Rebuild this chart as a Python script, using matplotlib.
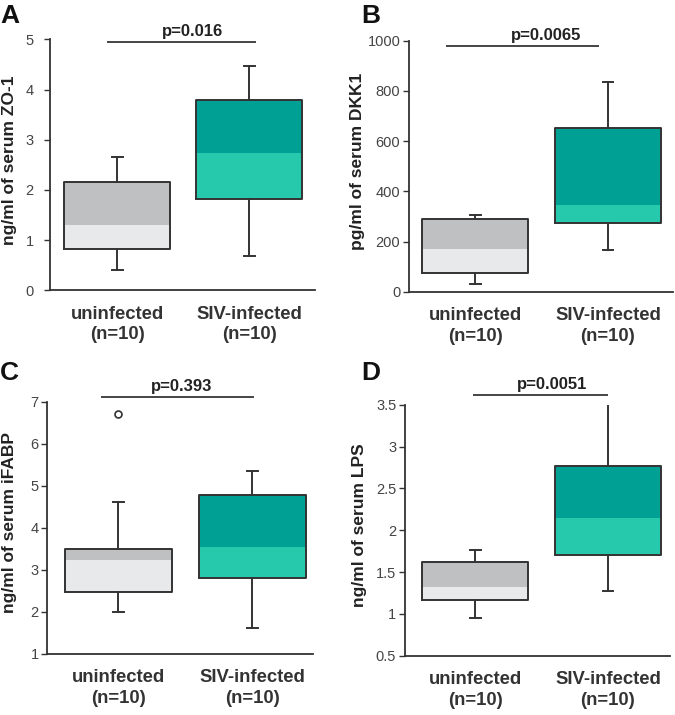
import matplotlib
matplotlib.use('Agg')
import matplotlib.pyplot as plt

plt.rcParams['font.family'] = ['Liberation Sans', 'DejaVu Sans']

# ------------------------------------------------------------
# data: [whisker low, Q1, median, Q3, whisker high]
# ------------------------------------------------------------
groups = ['uninfected\n(n=10)', 'SIV-infected\n(n=10)']

zo1_uninf = [0.40, 0.82, 1.30, 2.15, 2.66]
zo1_siv = [0.68, 1.82, 2.73, 3.80, 4.47]

dkk1_uninf = [29, 75, 172, 290, 307]
dkk1_siv = [168, 272, 344, 653, 834]

ifabp_uninf = [1.98, 2.47, 3.24, 3.49, 4.61]
ifabp_siv = [1.60, 2.79, 3.54, 4.79, 5.36]
ifabp_uninf_outliers = [6.72]

lps_uninf = [0.95, 1.16, 1.32, 1.62, 1.76]
lps_siv = [1.27, 1.70, 2.15, 2.77, 3.51]

p_values = ['p=0.016', 'p=0.0065', 'p=0.393', 'p=0.0051']

# colours: (light lower half, dark upper half)
gray_colors = ('#e8e9eb', '#bec0c2')
teal_colors = ('#26c9ac', '#00a095')
edge = '#333333'


def draw_panel(ax, uninf, siv, ylabel, ylim, yticks, pval, pbar, ptext_x,
               xlim, label_x, tick_pad=2, fliers=((), ())):
    pos = [1, 2]
    stats = []
    for i, s in enumerate([uninf, siv]):
        stats.append(dict(whislo=s[0], q1=s[1], med=s[2], q3=s[3],
                          whishi=s[4], fliers=list(fliers[i])))

    # two-tone box fill: Q1->median light, median->Q3 dark
    for p, s, cols in zip(pos, [uninf, siv], [gray_colors, teal_colors]):
        ax.bar(p, s[2] - s[1], bottom=s[1], width=0.8, color=cols[0],
               linewidth=0, zorder=1)
        ax.bar(p, s[3] - s[2], bottom=s[2], width=0.8, color=cols[1],
               linewidth=0, zorder=1)

    ax.bxp(stats, positions=pos, widths=0.8, capwidths=0.08,
           showfliers=True,
           boxprops=dict(color=edge, linewidth=1.4),
           whiskerprops=dict(color=edge, linewidth=1.4),
           capprops=dict(color=edge, linewidth=1.4),
           medianprops=dict(linewidth=0),
           flierprops=dict(marker='o', markerfacecolor='white',
                           markeredgecolor=edge, markersize=5,
                           markeredgewidth=1.2))

    ax.set_xlim(*xlim)
    ax.set_ylim(*ylim)
    ax.set_yticks(yticks)
    ax.set_yticklabels(['%g' % t for t in yticks])
    ax.set_xticks(pos)
    ax.set_xticklabels(groups, fontsize=13.3, fontweight='bold',
                       color='#333333', linespacing=1.3)
    ax.tick_params(axis='x', length=0, pad=11)
    ax.tick_params(axis='y', length=4.3, width=1, color=edge,
                   labelsize=10.5, labelcolor='#444444', pad=tick_pad)

    for sp in ['top', 'right']:
        ax.spines[sp].set_visible(False)
    for sp in ['left', 'bottom']:
        ax.spines[sp].set_linewidth(1.3)
        ax.spines[sp].set_color(edge)

    ax.set_ylabel(ylabel, fontsize=12.5, fontweight='bold', color='#222222')
    ax.yaxis.set_label_coords(label_x, 0.52)

    # significance bar
    x0, x1, y = pbar
    ax.plot([x0, x1], [y, y], color='#444444', linewidth=1.4,
            clip_on=False, solid_capstyle='butt')
    ax.annotate(pval, xy=(ptext_x, y), xytext=(0, 2),
                textcoords='offset points', ha='center', va='bottom',
                fontsize=12, fontweight='bold', color='#222222',
                annotation_clip=False)


fig = plt.figure(figsize=(6.75, 7.15), dpi=100)

axA = fig.add_axes([0.074, 0.594, 0.393, 0.351])
axB = fig.add_axes([0.606, 0.592, 0.391, 0.351])
axC = fig.add_axes([0.070, 0.086, 0.393, 0.352])
axD = fig.add_axes([0.600, 0.083, 0.393, 0.351])

draw_panel(axA, zo1_uninf, zo1_siv, 'ng/ml of serum ZO-1', (0, 5),
           [0, 1, 2, 3, 4, 5], p_values[0], (0.92, 2.05, 4.95), 1.57,
           (0.49, 2.5), -0.125, tick_pad=7.5)
draw_panel(axB, dkk1_uninf, dkk1_siv, 'pg/ml of serum DKK1', (0, 1000),
           [0, 200, 400, 600, 800, 1000], p_values[1], (0.78, 1.93, 978),
           1.53, (0.5, 2.49), -0.167)
draw_panel(axC, ifabp_uninf, ifabp_siv, 'ng/ml of serum iFABP', (1, 7),
           [1, 2, 3, 4, 5, 6, 7], p_values[2], (0.87, 2.01, 7.12), 1.47,
           (0.47, 2.45), -0.113, fliers=(ifabp_uninf_outliers, []))
draw_panel(axD, lps_uninf, lps_siv, 'ng/ml of serum LPS', (0.5, 3.5),
           [0.5, 1, 1.5, 2, 2.5, 3, 3.5], p_values[3], (0.98, 2.0, 3.62),
           1.58, (0.47, 2.47), -0.143)

# panel letters
for x, y, letter in [(0.0, 0.995, 'A'), (0.535, 0.995, 'B'),
                     (0.0, 0.495, 'C'), (0.535, 0.495, 'D')]:
    fig.text(x, y, letter, fontsize=19, fontweight='bold', ha='left',
             va='top', color='#111111')

fig.savefig('out.png', dpi=100)
